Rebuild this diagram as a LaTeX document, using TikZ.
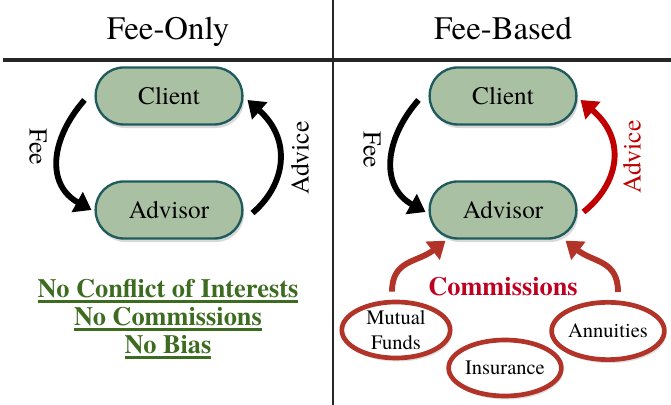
\documentclass[tikz,border=0pt]{standalone}
\usepackage{fontspec}
\setmainfont{TeX Gyre Termes}
\usepackage{tikz}
\usetikzlibrary{arrows.meta,shapes.geometric,shadows}
\definecolor{boxgreen}{RGB}{169,193,162}
\definecolor{boxedge}{RGB}{31,91,94}
\definecolor{advred}{RGB}{192,0,0}
\definecolor{commred}{RGB}{178,52,40}
\definecolor{commtext}{RGB}{192,0,32}
\definecolor{nogreen}{RGB}{61,107,31}
\newcommand{\titlesize}{\fontsize{28}{32}\selectfont}
\newcommand{\partysize}{\fontsize{21.5}{24}\selectfont}
\newcommand{\labelsize}{\fontsize{22}{24}\selectfont}
\newcommand{\prodsize}{\fontsize{17.5}{21}\selectfont}
\newcommand{\nosize}{\fontsize{22.5}{24}\selectfont\bfseries}
\newcommand{\greenul}[1]{\leavevmode\vtop{\hbox{#1}\kern1.5pt\hrule height 2.5pt}}

\begin{document}
\begin{tikzpicture}[x=0.03cm, y=0.03cm,
    party/.style={draw=boxedge, line width=2pt, fill=boxgreen, rounded corners=0.84cm,
        minimum width=4.4cm, minimum height=1.71cm, font=\partysize,
        drop shadow={shadow xshift=1.5pt, shadow yshift=-3pt, opacity=0.3}},
    product/.style={ellipse, draw=commred, line width=4pt, fill=white, inner sep=0pt,
        minimum width=3.25cm, minimum height=1.68cm, align=center, font=\prodsize,
        drop shadow={shadow xshift=1.5pt, shadow yshift=-3pt, opacity=0.25}},
    flow/.style={line width=5pt, -{Triangle[length=14pt,width=19pt]}},
    commflow/.style={flow, draw=commred}]
    \useasboundingbox (0,0) rectangle (671,405);
    \draw[line width=2.5pt, black!85] (333,0) -- (333,405);
    \draw[line width=3.2pt, black!85] (3,345) -- (671,345);

    \node[font=\titlesize, anchor=base] (only) at (168,365) {Fee-Only};
    \node[font=\titlesize, anchor=base] (based) at (503,365) {Fee-Based};

    \node[party] (c1) at (169,309) {Client};
    \node[party] (a1) at (169,195) {Advisor};
    \node[party] (c2) at (503,309) {Client};
    \node[party] (a2) at (503,195) {Advisor};

    \node[rotate=-90, font=\labelsize] (fee1) at (38,258) {Fee};
    \node[rotate=90, font=\labelsize] (adv1) at (300,247) {Advice};
    \node[rotate=-90, font=\labelsize] (fee2) at (372,255) {Fee};
    \node[rotate=90, font=\labelsize, text=advred] (adv2) at (632,248) {Advice};

    \draw[flow] ([shift={(-10,-4)}]c1.west) .. controls +(-35,-40) and +(-45,25) .. ([shift={(-3,0)}]a1.west);
    \draw[flow] ([shift={(9,-3)}]a1.east) .. controls +(33,28) and +(45,-40) .. ([shift={(4,-4)}]c1.east);
    \draw[flow] ([shift={(-10,-4)}]c2.west) .. controls +(-35,-40) and +(-45,25) .. ([shift={(-3,-2)}]a2.west);
    \draw[flow, draw=advred] ([shift={(6,-2)}]a2.east) .. controls +(35,28) and +(47,-40) .. ([shift={(3,-4)}]c2.east);

    \node[font=\nosize, text=nogreen, anchor=base] (noconf) at (168,107) {\greenul{No Conflict of Interests}};
    \node[font=\nosize, text=nogreen, anchor=base] (nocomm) at (168,79) {\greenul{No Commissions}};
    \node[font=\nosize, text=nogreen, anchor=base] (nobias) at (168,51) {\greenul{No Bias}};

    \node[product] (mf) at (396,75) {Mutual\\Funds};
    \node[product] (ins) at (505,37) {Insurance};
    \node[product, minimum width=3.35cm, minimum height=1.72cm] (ann) at (608,74) {Annuities};
    \node[font=\nosize, text=commtext] (comm) at (503,118) {Commissions};

    \draw[commflow] ([shift={(-4,8)}]mf.north) .. controls +(0,32) and +(-28,-22) .. ([shift={(17,-1)}]a2.south west);
    \draw[commflow] ([shift={(10,8)}]ann.north) .. controls +(0,32) and +(28,-22) .. ([shift={(-12,-1)}]a2.south east);
\end{tikzpicture}
\end{document}
